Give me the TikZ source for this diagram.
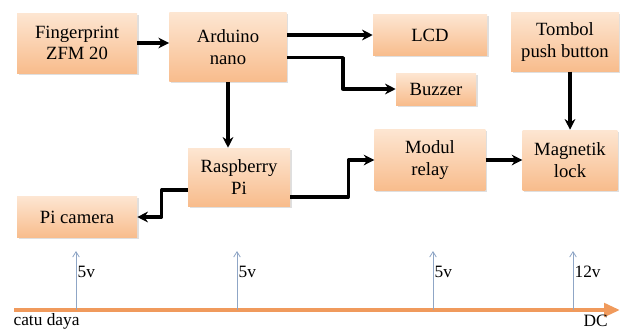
\documentclass[tikz,border=0pt]{standalone}
\usepackage{fontspec}
\setmainfont{Liberation Serif}[Scale=1.0]
\usetikzlibrary{positioning, arrows.meta, shadows}

\definecolor{boxtop}{HTML}{FDE6D2}
\definecolor{boxbot}{HTML}{F8BC8C}
\definecolor{powerline}{HTML}{F09A5C}
\definecolor{tapline}{HTML}{8FA6C6}

\tikzset{
  blok/.style={rectangle, inner sep=0pt, align=center, top color=boxtop, bottom color=boxbot,
    drop shadow={shadow xshift=1.2pt, shadow yshift=-1.2pt, opacity=0.25},
    font=\rmfamily\fontsize{14}{16}\selectfont},
  arr/.style={-{Stealth[length=8pt, width=8pt]}, line width=2.4pt, line join=round},
  tap/.style={-{Straight Barb[length=4pt, width=5pt]}, tapline, line width=0.6pt},
  lbl/.style={inner sep=1pt, font=\rmfamily\fontsize{13}{15}\selectfont}
}

\begin{document}
\begin{tikzpicture}[x=0.75pt, y=-0.75pt]
  \useasboundingbox (0,0) rectangle (620,329);

  % blocks
  \node[blok, minimum width=90pt, minimum height=45pt] (fp) at (77,43) {Fingerprint\\ZFM 20};
  \node[blok, minimum width=88pt, minimum height=52pt] (ard) at (228,47) {Arduino\\nano};
  \node[blok, minimum width=85.5pt, minimum height=31pt] (lcd) at (430,35) {LCD};
  \node[blok, minimum width=60pt, minimum height=24pt] (buz) at (436,89) {Buzzer};
  \node[blok, minimum width=81pt, minimum height=44pt] (tom) at (565,42) {Tombol\\push button};
  \node[blok, minimum width=76.5pt, minimum height=43.5pt] (rpi) at (239,177) {Raspberry\\Pi};
  \node[blok, minimum width=83pt, minimum height=46pt] (relay) at (430,160) {Modul\\relay};
  \node[blok, minimum width=71pt, minimum height=45pt] (mag) at (570,160) {Magnetik\\lock};
  \node[blok, minimum width=90pt, minimum height=31pt] (cam) at (77,217) {Pi camera};

  % signal connections
  \draw[arr] (fp.east) -- (fp.east -| ard.west);
  \draw[arr] (lcd.west -| ard.east) -- (lcd.west);
  \draw[arr] ([yshift=-8pt]ard.east) -- ++(56,0) |- (buz.west);
  \draw[arr] (ard.south) -- (ard.south |- rpi.north);
  \draw[arr] ([yshift=-9.75pt]rpi.west) -- ++(-26,0) |- (cam.east);
  \draw[arr] ([yshift=-15pt]rpi.east) -- ++(58,0) |- (relay.west);
  \draw[arr] (relay.east) -- (mag.west);
  \draw[arr] (mag.north |- tom.south) -- (mag.north);

  % power supply line
  \coordinate (src) at (14,310);
  \coordinate (dc) at (620,310);
  \draw[-{Triangle[length=12pt, width=10pt]}, powerline, line width=3pt] (src) -- (dc);
  \foreach \x/\v [count=\i] in {76/5v, 237/5v, 433/5v, 573/12v} {
    \coordinate (base\i) at (\x,310);
    \coordinate (top\i) at (\x,251);
    \draw[tap] (base\i) -- (top\i);
    \node[lbl, anchor=west] (volt\i) at (\x,272) {\v};
  }
  \node[lbl, anchor=west] (catu) at (12,321) {catu daya};
  \node[lbl, anchor=west] (dclbl) at (582,321) {DC};
\end{tikzpicture}
\end{document}
